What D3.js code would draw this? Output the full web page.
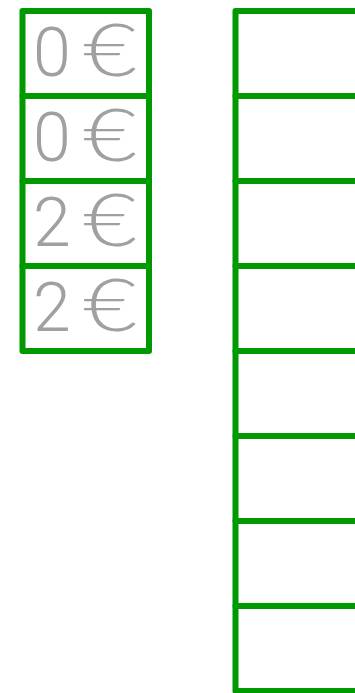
<!DOCTYPE html>
<html>
<head>
<meta charset="utf-8">
<script src="https://cdn.jsdelivr.net/npm/d3@7"></script>
<style>
html,body{margin:0;padding:0;background:#fff;overflow:hidden;}
svg{display:block;}
</style>
</head>
<body>
<svg id="chart" width="355" height="693"></svg>
<script>
const leftCategories = ["a", "b", "c", "d"];
const leftValues = [0, 0, 2, 2];
const leftUnit = "€";
const rightCategories = ["r1", "r2", "r3", "r4", "r5", "r6", "r7", "r8"];
const rightValues = ["", "", "", "", "", "", "", ""];

const svg = d3.select("#chart");
const green = "#009900";
const sw = 6;

const yLeft = d3.scaleBand().domain(leftCategories).range([11, 351]).padding(0);
const yRight = d3.scaleBand().domain(rightCategories).range([11, 691]).padding(0);

const gL = svg.append("g");
gL.selectAll("rect").data(leftCategories).join("rect")
  .attr("x", 22.5).attr("y", d => yLeft(d))
  .attr("width", 126.5).attr("height", yLeft.bandwidth())
  .attr("fill", "none").attr("stroke", green).attr("stroke-width", sw)
  .attr("stroke-linejoin", "round");
const t = gL.selectAll("text").data(leftCategories).join("text")
  .attr("x", 33).attr("y", d => yLeft(d) + 64.7)
  .attr("font-family", "Roboto, sans-serif")
  .attr("font-weight", 300)
  .attr("font-size", 68)
  .attr("fill", "#a0a0a0");
t.append("tspan").text((d, i) => String(leftValues[i]));
t.append("tspan").attr("font-size", 51).text(" ");
t.append("tspan")
  .attr("font-family", "Lato, sans-serif")
  .attr("font-weight", 300)
  .attr("font-size", 72)
  .attr("textLength", 54)
  .attr("lengthAdjust", "spacingAndGlyphs")
  .text(leftUnit);

const gR = svg.append("g");
gR.selectAll("rect").data(rightCategories).join("rect")
  .attr("x", 235.5).attr("y", d => yRight(d))
  .attr("width", 200).attr("height", yRight.bandwidth())
  .attr("fill", "none").attr("stroke", green).attr("stroke-width", sw)
  .attr("stroke-linejoin", "round");
gR.selectAll("text").data(rightCategories).join("text")
  .attr("x", 248).attr("y", d => yRight(d) + 64.7)
  .attr("font-family", "Roboto, sans-serif")
  .attr("font-weight", 300)
  .attr("font-size", 68)
  .attr("fill", "#a0a0a0")
  .text((d, i) => rightValues[i]);
</script>
</body>
</html>
